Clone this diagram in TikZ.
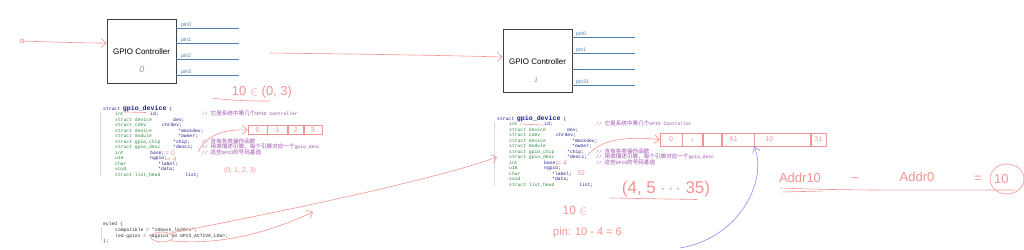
\documentclass[tikz,border=0pt]{standalone}
\usepackage{fontspec}
\setmainfont{Liberation Sans}
\setmonofont{Liberation Mono}
\newfontfamily\cjk{Noto Sans CJK SC}
\usetikzlibrary{arrows.meta,shapes.geometric}
\definecolor{hw}{HTML}{F39494}
\definecolor{hwblue}{HTML}{8C8CF5}
\definecolor{pinc}{HTML}{4F7FAF}
\definecolor{kwnavy}{HTML}{1E1E8C}
\definecolor{tgreen}{HTML}{2E8B3E}
\definecolor{cmt}{HTML}{A050B0}
\newcommand\codef{\ttfamily\fontsize{4.7}{5.5}\selectfont}
\newcommand\cjkc[1]{{\cjk\fontsize{5.6}{5.5}\selectfont #1}}
\newcommand\gpiostruct[3]{%
\begin{scope}[shift={(#2,#3)}]
\node[code] (#1head) at (0,0) {\textcolor{kwnavy}{struct} \textcolor{kwnavy}{\bfseries\fontsize{6.6}{6.6}\selectfont gpio\_device} \textcolor{kwnavy}{\{}};
\foreach \i/\t/\nx/\n in {1/int/47/id;,2/struct device/70/dev;,3/struct cdev/59/chrdev;,4/struct device/75/*mockdev;,5/struct module/75/*owner;,6/struct gpio\_chip/70/*chip;,7/struct gpio\_desc/70/*descs;,8/int/47/base;,9/u16/47/ngpio;,10/char/55/*label;,11/void/55/*data;,12/struct list\_head/82/list;}{
\node[code,text=tgreen] (#1t\i) at (12,\i*5.5) {\t};
\node[code,text=kwnavy] (#1n\i) at (\nx,\i*5.5) {\n};
}
\node[code,text=cmt] (#1c1) at (99,5.5) {// \cjkc{它是系统中第几个}GPIO Controller};
\node[code,text=cmt] (#1c2) at (99,33) {// \cjkc{含有各类操作函数}};
\node[code,text=cmt] (#1c3) at (99,38.5) {// \cjkc{用来描述引脚，每个引脚对应一个}gpio\_desc};
\node[code,text=cmt] (#1c4) at (99,44) {// \cjkc{这些}GPIO\cjkc{的号码基值}};
\end{scope}}
\tikzset{
  code/.style={anchor=base west,inner sep=0pt,font=\codef},
  ctrl/.style={draw=black!75,line width=0.8pt,minimum width=69pt,minimum height=64pt,inner sep=0pt},
  pinline/.style={draw=pinc,line width=0.9pt},
  pinlab/.style={anchor=base west,inner sep=0pt,text=pinc,font=\fontsize{5.2}{5.2}\selectfont},
  hwline/.style={draw=hw,line width=0.6pt},
  hwarrow/.style={hwline,-{Straight Barb[length=5pt,width=9pt,line width=0.6pt]}},
  hwtext/.style={text=hw,inner sep=0pt,font=\fontsize{#1}{#1}\selectfont},
  hwtext/.default=8,
  cell/.style={draw=hw,line width=0.6pt,minimum height=9pt,inner sep=0pt,text=hw,font=\fontsize{7}{7}\selectfont}
}
\begin{document}
\begin{tikzpicture}[x=1pt,y=-1pt]
\path[use as bounding box,fill=white] (0,0) rectangle (1024,249);

% ---- left controller
\node[ctrl] (ctl0) at (141.5,51) {};
\node[inner sep=0pt,font=\fontsize{8}{8}\selectfont] (ctl0t) at (141.5,52) {GPIO Controller};
\node[inner sep=0pt,text=black!40,font=\fontsize{9}{9}\selectfont\itshape] (ctl0n) at (142,69) {0};
\foreach \k/\yy in {0/28,1/43,2/59,3/75}{
  \coordinate (l0p\k) at (ctl0.east |- 0,\yy);
  \coordinate (l0e\k) at (239,\yy);
  \draw[pinline] (l0p\k) -- (l0e\k);
  \node[pinlab] (l0lab\k) at (181,\yy-1.5) {pin\k};
}

% ---- right controller
\node[ctrl,minimum height=63pt] (ctl1) at (537.5,60.5) {};
\node[inner sep=0pt,font=\fontsize{8}{8}\selectfont] (ctl1t) at (537.5,62) {GPIO Controller};
\node[inner sep=0pt,text=black!40,font=\fontsize{7}{7}\selectfont\itshape] (ctl1n) at (536,80) {1};
\foreach \k/\yy/\lab in {0/37/pin0,1/53/pin1,2/69/{\textcolor{black!30}{.....}},3/85/pin31}{
  \coordinate (l1p\k) at (ctl1.east |- 0,\yy);
  \coordinate (l1e\k) at (635,\yy);
  \draw[pinline] (l1p\k) -- (l1e\k);
  \node[pinlab] (l1lab\k) at (576,\yy-1.5) {\lab};
}

% ---- arrows between controllers
\coordinate (dot) at (22,41);
\draw[hw,line width=0.6pt] (dot) circle (2);
\draw[hwarrow] (dot) .. controls (50,42) and (80,43) .. (ctl0.west |- 0,43);
\coordinate (a1s) at (270,53);
\draw[hwarrow] (a1s) .. controls (350,54) and (430,55) .. (ctl1.west |- 0,57);

% ---- struct blocks
\gpiostruct{L}{103}{110}
\gpiostruct{R}{497}{120}

% ---- device tree snippet
\node[code,text=black!80] (dt1) at (103,225) {myled \{};
\node[code,text=black!80] (dt2) at (115,231) {compatible = "100ask\_leddrv";};
\node[code,text=black!80] (dt3) at (115,237) {led-gpios = <\&gpio1 10 GPIO\_ACTIVE\_LOW>;};
\node[code,text=black!80] (dt4) at (103,242.5) {\};};
\draw[black!15,line width=0.4pt] (101,227) -- (101,241);
\draw[black!15,line width=0.4pt] (100,112) -- (100,176);
\draw[black!15,line width=0.4pt] (494,122) -- (494,186);
\node[draw=hw,line width=0.6pt,ellipse,minimum width=22pt,minimum height=10pt,inner sep=0pt] (ell) at (162,237) {};

% ---- left annotations
\draw[hwline] (124,112) -- (146,112.5);
\node[hwtext=13] (h1) at (262,92) {10 $\in$ (0, 3)};
\draw[hwline] (212,98) .. controls (235,101) and (255,101) .. (270,101);
\node[cell,minimum width=19pt] (La0) at (257.5,130) {0};
\node[cell,minimum width=20pt,anchor=west] (La1) at (La0.east) {1};
\node[cell,minimum width=15pt,anchor=west] (La2) at (La1.east) {2};
\node[cell,minimum width=18pt,anchor=west] (La3) at (La2.east) {3};
\coordinate (Lcs) at (198,152);
\draw[hwarrow] (Lcs) .. controls (206,136) and (222,129) .. (La0.west);
\node[hwtext=7,anchor=west] (h2) at (165,153) {= 0};
\node[hwtext=6.5,anchor=west] (h3) at (167,159.3) {= 4};
\node[hwtext=7] (h4) at (240,171) {(0, 1, 2, 3)};

% ---- arrows from device tree
\coordinate (t1) at (313,212);
\draw[hwarrow] (ell.south east) .. controls (220,246) and (270,232) .. (t1);
\coordinate (t2) at (497,157);
\draw[hwarrow] (ell.north east) .. controls (300,208) and (440,178) .. (t2);

% ---- right annotations
\draw[hwline] (520,124) -- (543,125);
\node[cell,minimum width=22pt,minimum height=13pt] (Ra0) at (671,139.5) {0};
\node[cell,minimum width=20pt,minimum height=13pt,anchor=west] (Ra1) at (Ra0.east) {\fontsize{5}{5}\selectfont 1};
\node[cell,minimum width=18pt,minimum height=13pt,anchor=west] (Ra2) at (Ra1.east) {};
\node[cell,minimum width=32pt,minimum height=13pt,anchor=west] (Ra3) at (Ra2.east) {\hspace*{-8pt}61};
\node[cell,minimum width=56pt,minimum height=13pt,anchor=west] (Ra4) at (Ra3.east) {\hspace*{-26pt}10};
\node[cell,minimum width=15pt,minimum height=13pt,anchor=west] (Ra5) at (Ra4.east) {31};
\coordinate (Rcs) at (588,155);
\draw[hwarrow] (Rcs) .. controls (600,140) and (625,136) .. (Ra0.west);
\node[hwtext=7,anchor=west] (h5) at (557,163.5) {= 4};
\node[hwtext=7,anchor=west] (h6) at (577,173.5) {32};
\node[hwtext=17] (h7) at (666,189) {(4, 5 $\cdots$ 35)};
\draw[hwline] (610,198) -- (697,199.5);
\node[hwtext=12] (h8) at (575,211) {10 $\in$};
\node[hwtext=11,anchor=west] (h9) at (553,233) {pin: 10 - 4 = 6};
\coordinate (bs) at (680,248);
\draw[hwblue,line width=0.6pt,-{Straight Barb[length=6pt,width=8pt,line width=0.6pt]}] (bs) .. controls (740,238) and (768,180) .. (Ra4.south west);
\node[hwtext=13] (h10) at (800,178) {Addr10};
\node[hwtext=13] (h11) at (855,180) {--};
\node[hwtext=13] (h12) at (917,177) {Addr0};
\node[hwtext=13] (h13) at (978,179) {=};
\node[hwtext=13,anchor=west] (h14) at (994,179) {10};
\node[draw=hw,line width=0.6pt,ellipse,minimum width=34pt,minimum height=30pt,inner sep=0pt] (circ) at (1007,179) {};
\draw[hwline] (780,188) .. controls (850,191) and (950,190) .. (1015,190);
\draw[hwline] (783,192) -- (823,191);
\end{tikzpicture}
\end{document}
